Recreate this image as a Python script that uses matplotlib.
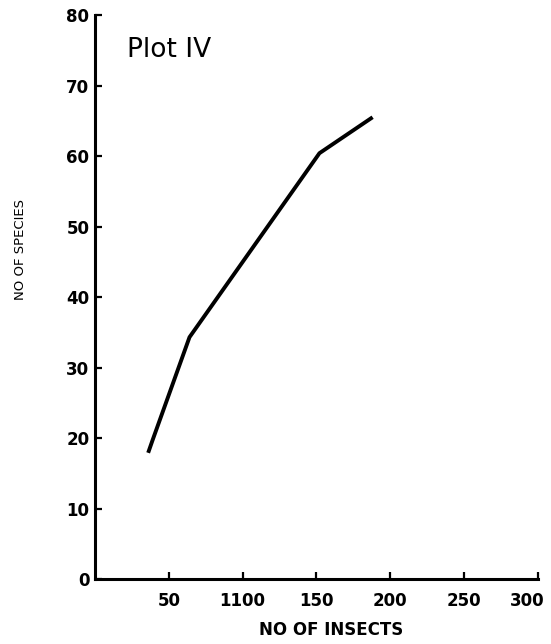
import matplotlib
matplotlib.use("Agg")
import matplotlib.pyplot as plt
import matplotlib.transforms as mtransforms

# curve
insects = [36, 39, 64, 152, 188]
species = [17.9, 19.7, 34.3, 60.4, 65.5]

x_ticks = [50, 100, 150, 200, 250, 300]
x_tick_labels = ["50", "1100", "150", "200", "250", "300"]
y_ticks = [0, 10, 20, 30, 40, 50, 60, 70, 80]

fig = plt.figure(figsize=(5.51, 6.44), dpi=100)
ax = fig.add_axes([0.1724, 0.1009, 0.804, 0.8758])

ax.plot(insects, species, color="black", linewidth=2.8, solid_capstyle="butt")

ax.set_xlim(0, 300)
ax.set_ylim(0, 80)
ax.set_xticks(x_ticks)
ax.set_xticklabels(x_tick_labels)
ax.set_yticks(y_ticks)

for s in ["top", "right"]:
    ax.spines[s].set_visible(False)
for s in ["left", "bottom"]:
    ax.spines[s].set_linewidth(2.2)

ax.tick_params(axis="both", direction="in", length=5, width=1.6,
               labelsize=12)
ax.tick_params(axis="x", pad=9)
ax.tick_params(axis="y", pad=4)
for lab in ax.get_xticklabels() + ax.get_yticklabels():
    lab.set_fontweight("bold")

# last x label sits a little left of its tick in the scan
last = ax.get_xticklabels()[-1]
last.set_transform(last.get_transform() +
                   mtransforms.ScaledTranslation(-11 / 100, 0, fig.dpi_scale_trans))

ax.text(21.5, 74, "Plot IV", fontsize=19, ha="left", va="baseline")

fig.text(331 / 551, 1 - 630 / 644, "NO OF INSECTS", fontsize=12,
         fontweight="bold", ha="center", va="center")
fig.text(21 / 551, 1 - 250 / 644, "NO OF SPECIES", fontsize=9.5,
         rotation=90, ha="center", va="center")

fig.savefig("out.png", dpi=100)
